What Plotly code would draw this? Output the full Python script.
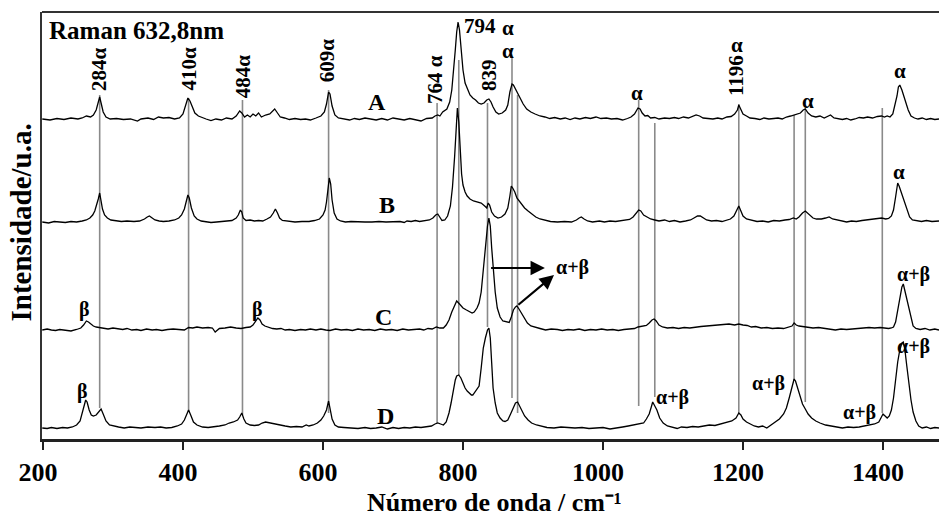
import plotly.graph_objects as go

# Raman spectra (632.8 nm excitation): (wavenumber / cm-1, intensity / a.u.) pairs
SPECTRUM_A = [
    (199, 1), (210, 0), (220, 1.5), (230, 0.5), (240, 2), (250, 1), (256, 2), (262, 4), (268, 3),
    (272, 5), (276, 10), (279, 18), (281, 23), (283, 17), (286, 8), (290, 3), (296, 1), (305, 1.5),
    (315, 0.5), (325, 1), (335, -1), (340, 1), (350, 2), (358, 0.5), (365, 3), (372, 2), (380, 2.5),
    (388, 1), (395, 2), (400, 6), (404, 14), (407, 22), (410, 19), (413, 13), (417, 7), (422, 4),
    (428, 2), (433, 1), (440, -0.5), (447, 1), (455, 0), (462, 2), (470, 1), (476, 4), (481, 9),
    (484, 7), (488, 3), (492, 5), (496, 3), (500, 6), (504, 4), (508, 7), (512, 3), (518, 5),
    (524, 6), (528, 9), (531, 11), (535, 7), (539, 3), (545, 2), (552, 0.5), (560, 1.5), (568, 0.5),
    (575, 1), (582, 0), (590, 2), (597, 4), (602, 8), (605, 16), (608, 28), (610, 26), (613, 14),
    (617, 5), (622, 2), (630, 1), (638, 0), (645, 1.5), (652, 0.5), (660, 2), (668, 1), (676, 0),
    (684, 1.5), (692, 0), (700, 2), (708, 1), (716, 0), (724, 1.5), (732, 0.5), (740, -1),
    (748, 1.5), (756, 2), (760, 4), (764, 5), (767, 4), (771, 8), (777, 11), (781, 18), (784, 30),
    (787, 50), (789, 70), (791, 88), (793, 98), (795, 90), (797, 72), (800, 50), (803, 37),
    (806, 31), (810, 25), (814, 22), (818, 20), (822, 17), (826, 16), (830, 17), (834, 20),
    (837, 21), (840, 18), (843, 13), (847, 8), (851, 6), (856, 7), (861, 10), (864, 15), (867, 28),
    (870, 36), (872, 35), (875, 31), (878, 27), (882, 21), (886, 16), (891, 11), (897, 8), (903, 6),
    (910, 4), (917, 3), (924, 1.5), (931, 2.5), (939, 1), (946, 2), (953, 0.5), (960, 2), (967, 1),
    (975, 2.5), (982, 1.5), (990, 3), (997, 1.5), (1005, 2), (1012, 1), (1020, 1.5), (1028, 0),
    (1035, 1.5), (1040, 3), (1045, 6), (1050, 12), (1053, 11), (1056, 7), (1060, 4), (1064, 4.5),
    (1068, 2), (1074, 2.5), (1080, 1), (1088, 2), (1095, 1.5), (1102, 2.5), (1108, 1.5), (1115, 3),
    (1122, 2), (1128, 4), (1133, 5), (1138, 4), (1143, 2), (1150, 1.5), (1157, 1), (1164, 2),
    (1170, 1), (1177, 3), (1183, 3.5), (1188, 6), (1192, 10), (1194, 15), (1197, 11), (1200, 6),
    (1205, 4), (1210, 2), (1217, 1.5), (1224, 0.5), (1230, 2), (1237, 1), (1244, 1.5), (1250, 2),
    (1256, 1), (1262, 3), (1268, 4), (1273, 5), (1278, 6), (1282, 7), (1286, 10), (1289, 11),
    (1293, 7), (1298, 4), (1304, 3), (1310, 4), (1316, 2), (1322, 4), (1325, 5), (1330, 2),
    (1336, 1.5), (1342, 0.5), (1348, 1.5), (1354, 0), (1360, 1), (1366, 2.5), (1372, 2), (1378, 3),
    (1385, 2), (1392, 3.5), (1398, 4), (1402, 3), (1406, 4), (1410, 3), (1414, 6), (1417, 14),
    (1420, 24), (1422, 33), (1424, 35), (1427, 30), (1430, 23), (1433, 17), (1436, 10), (1440, 4),
    (1445, 2), (1450, 1), (1456, 2), (1462, 0.5), (1468, 1.5), (1474, 0.5), (1480, 1),
]

SPECTRUM_B = [
    (199, 0), (208, -1), (216, 0.5), (224, 0), (232, -0.5), (240, 0.5), (248, 0), (256, 1),
    (262, 2), (267, 4), (271, 7), (274, 11), (277, 17), (279, 23), (281, 29), (283, 22), (285, 13),
    (288, 7), (292, 4), (297, 2), (305, 1), (312, 0.5), (320, 1), (330, 0.5), (338, 1), (345, 3),
    (349, 5), (352, 6), (356, 4), (360, 2), (366, 1), (372, 0.5), (380, 1), (388, 2), (394, 4),
    (398, 7), (402, 13), (405, 20), (407, 27), (409, 24), (412, 14), (416, 6), (420, 3), (426, 1),
    (433, 0.5), (440, -0.5), (448, 0), (455, 0.5), (462, 1), (470, 1.5), (476, 4), (479, 7),
    (482, 12), (484, 10), (486, 4), (490, 1.5), (496, 2), (502, 1), (508, 1.5), (514, 1), (520, 3),
    (525, 5), (529, 9), (532, 13), (535, 9), (538, 4), (542, 1.5), (550, 0.5), (560, 0), (570, 0.5),
    (580, 0.5), (588, 1.5), (595, 3), (600, 7), (603, 12), (605, 20), (607, 32), (609, 44),
    (611, 38), (613, 22), (616, 9), (620, 3), (625, 1), (632, 0), (640, 0.5), (650, 0), (660, 0),
    (670, 0), (680, 0.5), (690, 0), (700, 0), (710, 0.5), (716, -0.5), (720, 1), (726, 0.5),
    (732, 1.5), (738, 0.5), (745, 1.5), (752, 2), (757, 4), (761, 7), (764, 8), (767, 5),
    (770, 1.5), (774, 2), (778, 6), (782, 16), (785, 35), (788, 65), (790, 92), (792, 114),
    (794, 100), (796, 70), (798, 48), (800, 37), (803, 30), (806, 26), (810, 23), (815, 21),
    (820, 20), (826, 19), (831, 16), (834, 14), (836, 19), (838, 17), (841, 10), (845, 6), (850, 4),
    (855, 5), (860, 8), (864, 14), (867, 26), (869, 36), (871, 34), (874, 30), (877, 24), (880, 21),
    (884, 17), (888, 14), (893, 11), (898, 8), (904, 5), (910, 3), (917, 1.5), (925, 0.5), (935, 0),
    (945, 0.5), (955, 0), (962, 2), (966, 4), (969, 5), (973, 3), (978, 1), (985, 0), (995, 1),
    (1002, 0), (1010, 1), (1018, 0.5), (1025, 1), (1032, 1.5), (1038, 2.5), (1043, 5), (1047, 9),
    (1051, 12), (1054, 11), (1058, 7), (1063, 5), (1068, 3), (1074, 2), (1080, 1), (1088, 2),
    (1095, 0.5), (1102, 1.5), (1110, 0), (1118, 1), (1125, 2), (1130, 4), (1135, 6), (1139, 6),
    (1143, 4), (1148, 2), (1155, 1), (1162, 1.5), (1170, 0.5), (1176, 2), (1182, 3), (1187, 6),
    (1191, 12), (1194, 16), (1197, 11), (1200, 6), (1205, 3), (1212, 1.5), (1220, 0.5), (1228, 1),
    (1236, 0), (1244, 1.5), (1252, 1), (1260, 2), (1266, 2.5), (1272, 4), (1276, 3), (1280, 5),
    (1285, 9), (1289, 11), (1292, 9), (1296, 6), (1300, 4), (1305, 3), (1312, 3), (1318, 4),
    (1323, 5), (1328, 3), (1334, 2), (1340, 1), (1348, 0), (1355, 1), (1362, 0.5), (1370, 1.5),
    (1378, 2), (1386, 2.5), (1392, 3), (1398, 4), (1404, 3), (1408, 3.5), (1412, 6), (1415, 12),
    (1418, 25), (1421, 39), (1423, 36), (1426, 30), (1429, 22), (1432, 16), (1435, 10), (1438, 5),
    (1442, 2), (1448, 1), (1455, 0.5), (1462, 1.5), (1470, 0.5), (1480, 1),
]

SPECTRUM_C = [
    (199, 0), (206, 1), (212, 0), (218, -0.5), (224, 0.5), (232, 0), (240, -1), (248, 0.5),
    (254, 2), (258, 5), (262, 9), (265, 8), (268, 6), (272, 4), (276, 3), (281, 2.5), (287, 2),
    (293, 1), (300, 2), (307, 1), (314, 0.5), (320, 1.5), (327, 0), (334, 0.5), (340, -0.5),
    (348, 1), (356, 0), (362, 0.5), (370, -0.5), (378, 0.5), (386, 1), (394, 0.5), (402, 0),
    (408, 2.5), (414, 2), (420, 3), (428, 2), (436, 2.5), (442, 2), (446, -2), (452, 1.5), (460, 2),
    (468, 3), (476, 2), (483, 1.5), (490, 2.5), (496, 3), (500, 5), (504, 9), (507, 12), (510, 10),
    (513, 6), (517, 4), (522, 2.5), (528, 1.5), (534, 1), (540, 1.5), (546, 0), (552, 0.5),
    (560, -0.5), (568, 0.5), (575, 0), (582, 1), (590, 0), (597, 1), (604, 0), (610, -0.5),
    (618, 1), (626, 0), (634, 0.5), (642, -0.5), (650, 1), (658, 0), (666, 0.5), (674, -0.5),
    (682, 1), (690, 0), (698, 0.5), (706, -0.5), (714, 1), (722, 0), (730, 0.5), (738, 1), (744, 0),
    (750, 1.5), (756, 1), (762, 3), (767, 2), (772, 2), (776, 5), (780, 10), (784, 18), (788, 25),
    (791, 29), (795, 26), (800, 22), (805, 20), (810, 18), (813, 17), (816, 18), (820, 22),
    (823, 27), (826, 38), (829, 60), (832, 85), (835, 104), (837, 112), (839, 104), (841, 82),
    (843, 62), (846, 38), (849, 22), (853, 13), (857, 9), (861, 8.5), (866, 7.5), (869, 13),
    (872, 20), (875, 23), (877, 24), (880, 21), (884, 16), (888, 11), (892, 7), (897, 4), (903, 2.5),
    (910, 1.5), (918, 0), (926, 1), (935, 0.5), (942, -0.5), (950, 0.5), (958, 0), (966, 1),
    (974, -0.5), (982, 0.5), (990, 0), (998, 1), (1006, 0), (1014, 0.5), (1022, -0.5), (1030, 0.5),
    (1038, 1), (1045, 1.5), (1050, 3), (1056, 3.5), (1062, 4.5), (1066, 7), (1070, 10), (1073, 11),
    (1076, 9), (1080, 5), (1085, 3), (1092, 2), (1100, 2.5), (1108, 1.5), (1116, 2.5), (1124, 2),
    (1132, 3), (1140, 3.5), (1148, 4), (1156, 4.5), (1164, 5), (1172, 5.5), (1180, 6), (1188, 5),
    (1194, 6), (1200, 5), (1206, 4.5), (1212, 3), (1218, 3.5), (1226, 2), (1234, 2.5), (1242, 1.5),
    (1250, 2), (1258, 1.5), (1264, 2.5), (1270, 4), (1273, 7), (1276, 5), (1280, 4), (1286, 3.5),
    (1292, 3), (1300, 2), (1308, 2.5), (1316, 1.5), (1324, 1), (1332, 0), (1340, 1), (1348, 0.5),
    (1356, 1), (1364, 1.5), (1372, 2), (1380, 2.5), (1388, 2), (1396, 2.5), (1402, 2), (1408, 1.5),
    (1412, 2), (1415, 3), (1418, 8), (1421, 20), (1424, 32), (1427, 43), (1429, 46), (1431, 40),
    (1434, 30), (1437, 19), (1440, 10), (1443, 4), (1447, 1.5), (1453, 0.5), (1460, 1.5), (1467, 0),
    (1474, 1), (1480, 0),
]

SPECTRUM_D = [
    (199, 0), (206, -0.5), (212, 0.5), (220, -0.5), (228, 0.5), (235, 0), (242, 1), (248, 3),
    (253, 7), (256, 14), (259, 22), (261, 28), (263, 26), (266, 18), (269, 13), (272, 12), (276, 13),
    (280, 16), (283, 19), (286, 14), (290, 7), (295, 3), (300, 2), (308, 1), (316, 0), (324, 1),
    (332, 0.5), (340, 0), (350, 1), (360, 0.5), (368, 1), (376, 0), (384, 0.5), (392, 2), (398, 4),
    (402, 8), (405, 13), (408, 18), (411, 13), (415, 6), (420, 3), (428, 1), (436, 0.5), (444, 1),
    (452, 2), (460, 3), (466, 5), (472, 6), (478, 8), (481, 11), (484, 15), (487, 9), (490, 5),
    (496, 3), (502, 2.5), (508, 3), (513, 5), (518, 6), (524, 5), (530, 4), (538, 3), (546, 2),
    (554, 1), (562, 1.5), (570, 1), (576, 3), (580, 2), (586, 3), (592, 5), (597, 8), (601, 12),
    (605, 18), (608, 27), (610, 20), (613, 9), (617, 3), (622, 1), (630, 0.5), (640, 0), (650, -0.5),
    (660, 0.5), (668, -0.5), (676, 0), (684, 1), (692, -1), (700, 0.5), (708, -0.5), (716, 0.5),
    (724, 0), (732, 1), (740, 0.5), (748, 1.5), (755, 2), (760, 4), (764, 5), (768, 4), (772, 3),
    (776, 6), (780, 15), (783, 25), (786, 38), (789, 48), (791, 52), (794, 53), (797, 50), (800, 45),
    (803, 40), (806, 37), (809, 35), (812, 33), (814, 33), (817, 36), (820, 38), (823, 42),
    (826, 60), (829, 80), (832, 90), (835, 98), (837, 100), (839, 90), (841, 65), (843, 40),
    (846, 25), (849, 15), (853, 10), (857, 7), (860, 6.5), (864, 8), (868, 14), (872, 20), (875, 25),
    (878, 26), (881, 22), (884, 18), (888, 12), (893, 8), (898, 5), (905, 3), (912, 1.5), (920, 0.5),
    (930, 0), (940, 1), (950, 0.5), (960, 0), (970, 0.5), (980, -0.5), (990, 0), (1000, 0.5),
    (1010, -1), (1020, 0.5), (1028, 1), (1036, 2), (1044, 3), (1052, 4), (1058, 5), (1062, 9),
    (1066, 14), (1069, 21), (1071, 26), (1074, 22), (1077, 18), (1081, 10), (1086, 5), (1092, 2),
    (1100, 1), (1106, -0.5), (1112, 1), (1120, 0.5), (1128, 1.5), (1136, 1), (1144, 2), (1152, 3),
    (1160, 2.5), (1168, 4), (1176, 5), (1184, 7), (1190, 10), (1194, 15), (1197, 13), (1200, 9),
    (1205, 6), (1210, 4), (1216, 2), (1222, 1), (1228, 2), (1234, 0), (1240, 3), (1246, 6),
    (1252, 9), (1258, 14), (1262, 20), (1266, 30), (1270, 40), (1273, 49), (1275, 47), (1278, 40),
    (1281, 32), (1285, 24), (1289, 19), (1293, 14), (1298, 10), (1304, 7), (1310, 5), (1318, 3),
    (1326, 2), (1334, 1), (1342, 0), (1350, 1), (1358, 0.5), (1366, 1), (1374, 2), (1382, 3),
    (1388, 4), (1394, 6), (1398, 11), (1400, 14), (1403, 12), (1406, 10), (1409, 12), (1412, 18),
    (1415, 30), (1418, 50), (1421, 66), (1424, 78), (1427, 85), (1429, 86), (1431, 80), (1434, 62),
    (1437, 44), (1440, 28), (1443, 16), (1447, 7), (1451, 2), (1456, 0), (1462, 1), (1468, -0.5),
    (1474, 0.5), (1480, 0),
]

SAMPLE_NAMES = ["A", "B", "C", "D"]
SPECTRA = [SPECTRUM_A, SPECTRUM_B, SPECTRUM_C, SPECTRUM_D]
STACK_OFFSETS = [319, 217, 109, 11]

# band guide lines: (wavenumber, upper end, lower end) in stacked intensity units
BAND_GUIDES = [
    (281, 344, 31), (408, 341, 27), (485, 339, 24), (608, 349, 26), (763, 336, 16),
    (794, 379, 64), (835, 336, 112), (870, 382, 41), (878, 344, 26), (1051, 339, 33),
    (1074, 316, 42), (1194, 335, 26), (1273, 324, 59), (1289, 331, 37), (1399, 331, 26),
]

# rotated band labels: (text, wavenumber, height)
ROTATED_LABELS = [
    ("284α", 280, 370), ("410α", 408, 370), ("484α", 486, 363), ("609α", 606, 379),
    ("764 α", 760, 360), ("839", 837, 364), ("1196", 1190, 363),
]

# upright band labels: (text, wavenumber, height, font size)
UPRIGHT_LABELS = [
    ("794", 824, 413, 21), ("α", 865, 411, 21), ("α", 865, 388, 21), ("α", 1049, 346, 21),
    ("α", 1191, 394, 21), ("α", 1293, 338, 21), ("α", 1424, 368, 21), ("α", 1423, 267, 21),
    ("β", 259, 130, 20), ("β", 506, 130, 20), ("α+β", 956, 172, 20), ("α+β", 1444, 165, 20),
    ("β", 257, 48, 20), ("α+β", 1444, 93, 20), ("α+β", 1100, 42, 20), ("α+β", 1237, 56, 20),
    ("α+β", 1367, 27, 20),
]

# sample letters: (wavenumber, height)
SAMPLE_LABEL_POS = [(677, 337), (691, 234), (687, 122), (690, 23)]

# arrows pointing to the α+β label: (tail wavenumber, tail height, head wavenumber, head height)
ARROWS = [(838, 171, 917, 171), (877, 133, 930, 164)]

X_TICKS = [200, 400, 600, 800, 1000, 1200, 1400]

FONT = "Liberation Serif"
fig = go.Figure()

for name, spectrum, offset in zip(SAMPLE_NAMES, SPECTRA, STACK_OFFSETS):
    xs = [p[0] for p in spectrum]
    ys = [p[1] + offset for p in spectrum]
    fig.add_trace(go.Scatter(x=xs, y=ys, mode="lines", name=name,
                             line=dict(color="black", width=1.3), showlegend=False))

for wn, y_top, y_bot in BAND_GUIDES:
    fig.add_shape(type="line", xref="x", yref="y", x0=wn, x1=wn, y0=y_bot, y1=y_top,
                  line=dict(color="#8a8a8a", width=1.6), layer="below")

# thin frame line along the top
fig.add_shape(type="line", xref="paper", yref="paper", x0=0, x1=1, y0=1, y1=1,
              line=dict(color="#333333", width=2))

for text, wn, h in ROTATED_LABELS:
    fig.add_annotation(x=wn, y=h, text=text, showarrow=False, textangle=-90,
                       font=dict(family=FONT, size=21, color="black", weight="bold"))

for text, wn, h, size in UPRIGHT_LABELS:
    fig.add_annotation(x=wn, y=h, text=text, showarrow=False,
                       font=dict(family=FONT, size=size, color="black", weight="bold"))

for name, (wn, h) in zip(SAMPLE_NAMES, SAMPLE_LABEL_POS):
    fig.add_annotation(x=wn, y=h, text=name, showarrow=False,
                       font=dict(family=FONT, size=24, color="black", weight="bold"))

for x0, y0, x1, y1 in ARROWS:
    fig.add_annotation(x=x1, y=y1, ax=x0, ay=y0, xref="x", yref="y", axref="x", ayref="y",
                       text="", showarrow=True, arrowhead=2, arrowsize=1.3, arrowwidth=2.2,
                       arrowcolor="black")

fig.add_annotation(x=206, y=409, text="Raman 632,8nm", showarrow=False, xanchor="left",
                   font=dict(family=FONT, size=25, color="black", weight="bold"))

fig.add_annotation(xref="paper", yref="paper", x=-0.0245, y=0.507, xanchor="center",
                   yanchor="middle", text="Intensidade/u.a.", showarrow=False, textangle=-90,
                   font=dict(family=FONT, size=29, color="black", weight="bold"))

fig.add_annotation(xref="paper", yref="paper", x=0.504, y=-0.149, xanchor="center",
                   yanchor="middle", text="Número de onda / cm⁻¹", showarrow=False,
                   font=dict(family=FONT, size=26, color="black", weight="bold"))

fig.update_layout(
    width=939, height=518,
    margin=dict(l=42, r=0, t=12, b=79),
    paper_bgcolor="white", plot_bgcolor="white",
    xaxis=dict(range=[198.6, 1480], tickvals=X_TICKS, ticks="outside", ticklen=8, tickwidth=2,
               tickcolor="#222222", showline=True, linewidth=3, linecolor="#222222",
               showgrid=False, zeroline=False, ticklabelshift=-5,
               tickfont=dict(family=FONT, size=26, color="black", weight="bold")),
    yaxis=dict(range=[0, 427], showticklabels=False, ticks="", showline=True, linewidth=1.5,
               linecolor="#333333", showgrid=False, zeroline=False),
)

fig.write_html("out.html")
